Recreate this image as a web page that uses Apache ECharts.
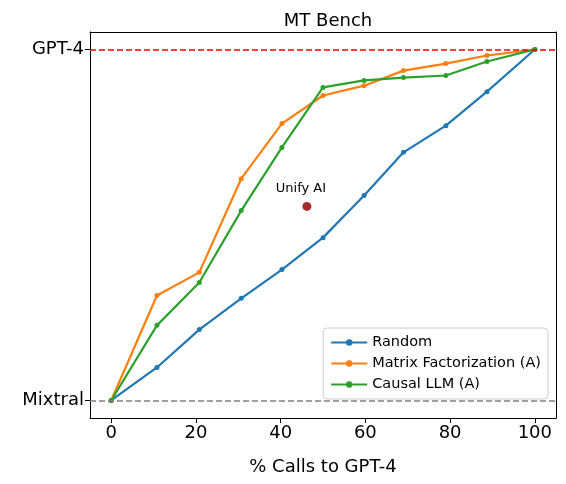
<!DOCTYPE html>
<html>
<head>
<meta charset="utf-8">
<script src="https://cdn.jsdelivr.net/npm/echarts@6/dist/echarts.min.js"></script>
<style>html,body{margin:0;padding:0;background:#fff}#main{width:566px;height:484px}</style>
</head>
<body>
<div id="main"></div>
<script>
// x: % calls to GPT-4, y: normalized score (0 = Mixtral, 1 = GPT-4)
const callsX = [0, 10.8, 20.8, 30.7, 40.3, 50, 59.7, 69, 79, 88.7, 100]
const randomY = [0, 0.094, 0.202, 0.291, 0.373, 0.464, 0.584, 0.707, 0.783, 0.88, 1]
const mfY = [0, 0.299, 0.365, 0.632, 0.789, 0.869, 0.897, 0.94, 0.96, 0.983, 1]
const causalY = [0, 0.214, 0.336, 0.541, 0.721, 0.892, 0.912, 0.92, 0.926, 0.966, 1]
const unifyPoint = [46.2, 0.553]
const xTicks = [0, 20, 40, 60, 80, 100]
const yTicks = [0, 1]
const yTickLabels = { 0: 'Mixtral', 1: 'GPT-4' }

const font = 'DejaVu Sans'
const pair = ys => callsX.map((x, i) => [x, ys[i]])
const line = (name, ys, color) => ({
  name, type: 'line', data: pair(ys), symbol: 'circle', symbolSize: 5,
  lineStyle: { width: 2.2, color }, itemStyle: { color }, z: 3,
  emphasis: { disabled: true }
})
const frame = { show: true, onZero: false, lineStyle: { color: '#000' } }

const chart = echarts.init(document.getElementById('main'))
chart.setOption({
  animation: false,
  textStyle: { fontFamily: font },
  title: { text: 'MT Bench', left: 323, top: 7, textAlign: 'center',
    textStyle: { fontSize: 18, fontWeight: 'normal', color: '#000', fontFamily: font } },
  grid: { left: 90, right: 10, top: 32, bottom: 66 },
  xAxis: [{
    type: 'value', min: -5, max: 105,
    name: '% Calls to GPT-4', nameLocation: 'middle', nameGap: 40,
    nameTextStyle: { fontSize: 18, color: '#000' },
    axisLine: frame,
    axisTick: { show: true, customValues: xTicks, length: 5, lineStyle: { color: '#000' } },
    axisLabel: { customValues: xTicks, fontSize: 18, color: '#000', margin: 6 },
    splitLine: { show: false }
  }, {
    type: 'value', min: -5, max: 105, position: 'top',
    axisLine: frame, axisTick: { show: false }, axisLabel: { show: false }, splitLine: { show: false }
  }],
  yAxis: [{
    type: 'value', min: -0.05, max: 1.05,
    axisLine: frame,
    axisTick: { show: true, customValues: yTicks, length: 5, lineStyle: { color: '#000' } },
    axisLabel: { customValues: yTicks, fontSize: 18, color: '#000', margin: 6,
      formatter: v => yTickLabels[v] || '' },
    splitLine: { show: false }
  }, {
    type: 'value', min: -0.05, max: 1.05, position: 'right',
    axisLine: frame, axisTick: { show: false }, axisLabel: { show: false }, splitLine: { show: false }
  }],
  legend: {
    right: 18, bottom: 85, orient: 'vertical', itemGap: 6,
    itemWidth: 36, itemHeight: 8,
    borderColor: '#ccc', borderWidth: 1, borderRadius: 4, padding: [7, 7, 7, 7],
    textStyle: { fontSize: 14.5, color: '#000' },
    data: ['Random', 'Matrix Factorization (A)', 'Causal LLM (A)']
  },
  series: [
    Object.assign(line('Random', randomY, '#1f77b4'), {
      markLine: {
        silent: true, symbol: 'none', label: { show: false },
        data: [
          { yAxis: 1, lineStyle: { color: '#ff0000', type: [6, 3], width: 1.5 } },
          { yAxis: 0, lineStyle: { color: '#808080', type: [6, 3], width: 1.5 } }
        ]
      }
    }),
    line('Matrix Factorization (A)', mfY, '#ff7f0e'),
    line('Causal LLM (A)', causalY, '#2ca02c'),
    {
      name: 'Unify AI', type: 'scatter', data: [unifyPoint], symbolSize: 9,
      itemStyle: { color: '#a52a2a', opacity: 1 }, z: 4, emphasis: { disabled: true },
      label: { show: true, formatter: 'Unify AI', position: 'top', offset: [-6, -2],
        fontSize: 13, color: '#000' }
    }
  ]
})
</script>
</body>
</html>
